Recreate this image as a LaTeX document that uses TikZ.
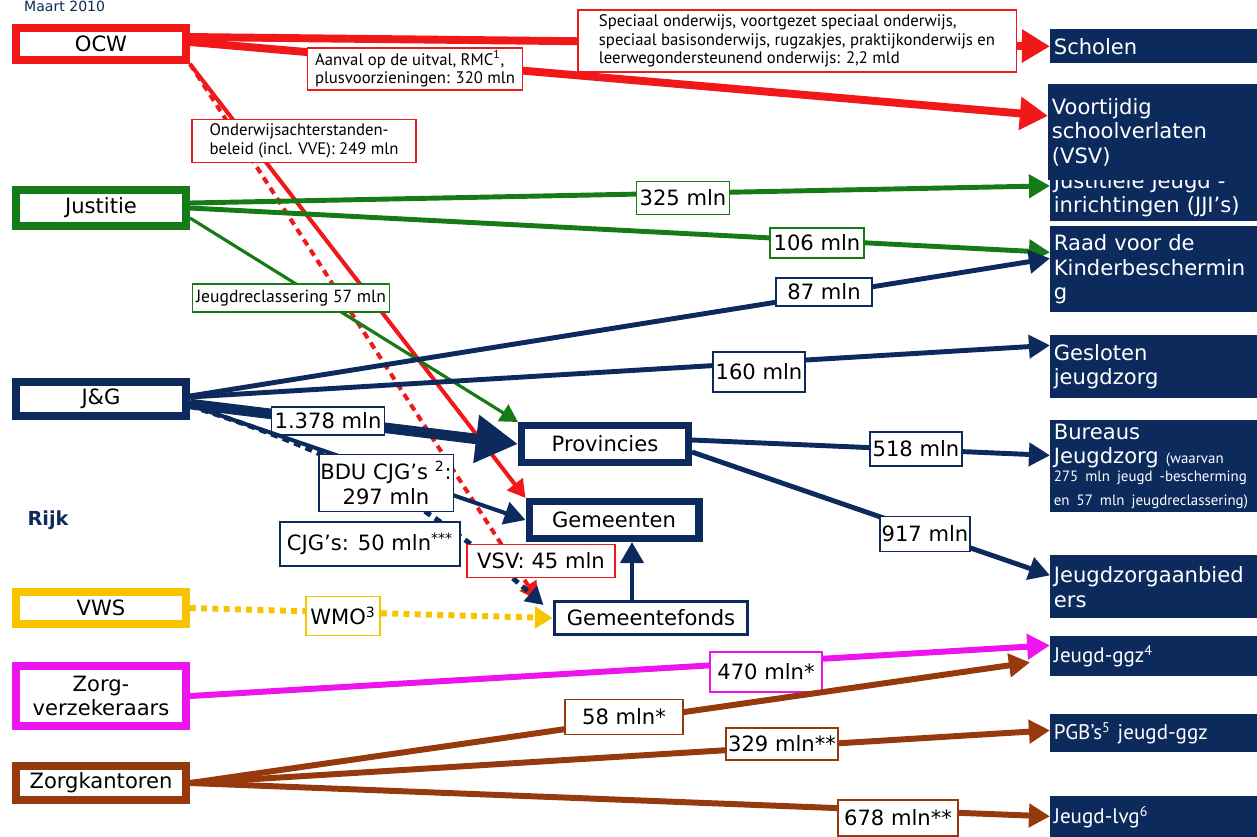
\documentclass[tikz,border=0pt]{standalone}
\usepackage{fontspec}
\setmainfont{DejaVu Sans}
\newfontfamily\smal{PT Sans}
\usetikzlibrary{arrows.meta}
\definecolor{ocwrood}{RGB}{240,24,24}
\definecolor{jusgroen}{RGB}{22,122,22}
\definecolor{jgblauw}{RGB}{12,42,92}
\definecolor{vwsgeel}{RGB}{246,196,0}
\definecolor{zvroze}{RGB}{238,20,238}
\definecolor{zkbruin}{RGB}{150,58,14}
\newcommand\klein{\smal\fontsize{8.5}{10}\selectfont}

\begin{document}
\begin{tikzpicture}[x=0.02cm,y=-0.02cm,font=\fontsize{12}{14}\selectfont,
  bron/.style={draw=#1,line width=4.5pt,fill=white,minimum width=3.4cm,inner sep=1pt},
  midden/.style={draw=jgblauw,line width=4pt,fill=white,inner sep=1pt},
  doel/.style={fill=jgblauw,text=white,anchor=north west,align=left,
    text width=4.3cm,inner xsep=2pt,inner ysep=1pt},
  bedrag/.style={draw=#1,line width=1.1pt,fill=white,inner sep=1pt},
  uitleg/.style={draw=#1,line width=1.1pt,fill=white,inner sep=1.5pt,align=left,
    font=\smal\fontsize{9.5}{10.5}\selectfont},
  geld/.style={-{Triangle[length=12pt,width=13pt]},line width=2.8pt}]
\useasboundingbox (0,0) rectangle (1257,836);
\node[text=jgblauw,font=\fontsize{8}{9}\selectfont,anchor=west] (titel) at (18,6) {Maart 2010};

% geldgevers
\node[bron=ocwrood,minimum height=0.64cm] (ocw) at (101,44) {OCW};
\node[bron=jusgroen,minimum height=0.72cm] (jus) at (101,208) {Justitie};
\node[bron=jgblauw,minimum height=0.68cm] (jg) at (101,399) {J\&G};
\node[text=jgblauw,font=\bfseries\fontsize{11}{13}\selectfont] (rijk) at (48,520) {Rijk};
\node[bron=vwsgeel,minimum height=0.64cm] (vws) at (101,608) {VWS};
\node[bron=zvroze,minimum height=1.2cm,align=center] (zv) at (101,696) {Zorg-\\verzekeraars};
\node[bron=zkbruin,minimum height=0.68cm] (zk) at (101,783) {Zorgkantoren};

% tussenlaag
\node[midden,minimum width=3.34cm,minimum height=0.74cm] (prov) at (605,444) {Provincies};
\node[midden,minimum width=3.4cm,minimum height=0.74cm] (gem) at (614,520) {Gemeenten};
\node[draw=jgblauw,line width=1.7pt,fill=white,minimum width=3.88cm,
  minimum height=0.66cm] (gf) at (651,618) {Gemeentefonds};

% ontvangers
\node[doel,minimum height=0.68cm] (scholen) at (1050,29) {Scholen};
\node[doel,minimum height=1.06cm] (jji) at (1050,168) {Justitiele Jeugd -\\inrichtingen (JJI’s)};
\node[doel,minimum height=1.92cm] (vsv) at (1048,84) {Voortijdig\\schoolverlaten\\(VSV)};
\node[doel,minimum height=1.72cm] (raad) at (1050,226) {Raad voor de\\Kinderbeschermin\\g};
\node[doel,minimum height=1.26cm] (gesl) at (1050,335) {Gesloten\\jeugdzorg};
\node[doel,minimum height=1.84cm] (bur) at (1050,420)
  {Bureaus\\[4pt]Jeugdzorg \klein(waarvan\\275 mln jeugd -bescherming\\en 57 mln jeugdreclassering)};
\node[doel,minimum height=1.26cm] (jza) at (1050,555) {Jeugdzorgaanbied\\ers};
\node[doel,minimum height=0.8cm,font=\smal\fontsize{12}{14}\selectfont] (ggz) at (1050,636) {Jeugd-ggz\textsuperscript{4}};
\node[doel,minimum height=0.76cm,font=\smal\fontsize{12}{14}\selectfont] (pgb) at (1050,714) {PGB’s\textsuperscript{5} jeugd-ggz};
\node[doel,minimum height=0.84cm,font=\smal\fontsize{12}{14}\selectfont] (lvg) at (1050,796) {Jeugd-lvg\textsuperscript{6}};

% OCW
\draw[geld,ocwrood,line width=4.5pt,-{Triangle[length=16pt,width=18pt]}] ([yshift=0.14cm]ocw.east) -- (scholen.west);
\node[uitleg=ocwrood,minimum width=8.78cm,minimum height=1.24cm] (l-so) at (797,41)
  {Speciaal onderwijs, voortgezet speciaal onderwijs,\\speciaal basisonderwijs, rugzakjes, praktijkonderwijs en\\leerwegondersteunend onderwijs: 2,2 mld};
\draw[geld,ocwrood,line width=4.5pt,-{Triangle[length=16pt,width=18pt]}] ([yshift=0.04cm]ocw.east) -- ([yshift=0.33cm]vsv.west);
\node[uitleg=ocwrood,minimum width=4.3cm,minimum height=0.76cm] (l-av) at (415,69)
  {Aanval op de uitval, RMC\textsuperscript{1},\\plusvoorzieningen: 320 mln};
\draw[ocwrood,line width=2.3pt,-{Triangle[length=10pt,width=11pt]}] (ocw.south east) -- (gem.north west);
\draw[ocwrood,line width=2.3pt,dash pattern=on 4pt off 3pt,-{Triangle[length=10pt,width=11pt]}]
  (ocw.south east) -- ([xshift=-0.3cm]gf.north west);
\node[uitleg=ocwrood,minimum width=4.48cm,minimum height=0.86cm] (l-oa) at (304,141)
  {Onderwijsachterstanden-\\beleid (incl. VVE): 249 mln};

% Justitie
\draw[geld,jusgroen] ([yshift=0.1cm]jus.east) -- ([yshift=0.18cm]jji.west);
\node[bedrag=jusgroen,minimum width=1.86cm,minimum height=0.66cm] (l-325) at (683,198) {325 mln};
\draw[geld,jusgroen] (jus.east) -- ([yshift=0.34cm]raad.west);
\node[bedrag=jusgroen,minimum width=1.88cm,minimum height=0.6cm] (l-106) at (817,243) {106 mln};
\draw[jusgroen,line width=1.8pt,-{Triangle[length=10pt,width=11pt]}] ([yshift=-0.2cm]jus.east) -- (prov.north west);
\node[uitleg=jusgroen,minimum width=3.94cm,minimum height=0.56cm,font=\smal\fontsize{10}{11}\selectfont]
  (l-jr) at (291,298) {Jeugdreclassering 57 mln};

% J&G
\draw[geld,jgblauw] ([yshift=0.06cm]jg.east) -- ([yshift=0.22cm]raad.west);
\node[bedrag=jgblauw,minimum width=1.92cm,minimum height=0.56cm] (l-87) at (824,292) {87 mln};
\draw[geld,jgblauw] ([yshift=0.04cm]jg.east) -- ([yshift=0.43cm]gesl.west);
\node[bedrag=jgblauw,minimum width=1.84cm,minimum height=0.8cm] (l-160) at (759,372) {160 mln};
\draw[jgblauw,line width=6pt,-{Triangle[length=24pt,width=26pt]}] ([yshift=-0.1cm]jg.east) -- (prov.west);
\node[bedrag=jgblauw,minimum width=2.26cm,minimum height=0.56cm] (l-1378) at (328,421) {1.378 mln};
\draw[geld,jgblauw,line width=2.3pt] ([yshift=-0.12cm]jg.east) -- (gem.west);
\draw[jgblauw,line width=2.8pt,dash pattern=on 4pt off 3pt,-{Triangle[length=10pt,width=11pt]}]
  ([yshift=-0.14cm]jg.east) to[bend left=12] ([xshift=-0.18cm,yshift=-0.1cm]gf.north west);
\node[bedrag=jgblauw,minimum width=2.64cm,minimum height=1.14cm,align=center] (l-bdu) at (386,483)
  {BDU CJG’s \textsuperscript{2}:\\297 mln};
\node[bedrag=jgblauw,minimum width=3.6cm,minimum height=0.88cm] (l-cjg) at (370,544) {CJG’s: 50 mln\textsuperscript{***}};
\node[bedrag=ocwrood,minimum width=2.96cm,minimum height=0.66cm] (l-vsv) at (541,561) {VSV: 45 mln};

% Provincies en Gemeentefonds
\draw[geld,jgblauw] ([yshift=0.08cm]prov.east) -- ([yshift=0.22cm]bur.west);
\node[bedrag=jgblauw,minimum width=1.84cm,minimum height=0.68cm] (l-518) at (916,449) {518 mln};
\draw[geld,jgblauw] ([yshift=-0.16cm]prov.east) -- ([yshift=0.23cm]jza.west);
\node[bedrag=jgblauw,minimum width=1.8cm,minimum height=0.7cm] (l-917) at (925,534) {917 mln};
\coordinate (gfop) at ([xshift=-0.38cm]gf.north);
\draw[geld,jgblauw] (gfop) -- (gfop |- gem.south);

% VWS
\draw[vwsgeel,line width=3.4pt,dash pattern=on 3.4pt off 3pt,-{Triangle[length=10pt,width=12pt]}] (vws.east) -- (gf.west);
\node[bedrag=vwsgeel,minimum width=1.48cm,minimum height=0.78cm] (l-wmo) at (343,616) {WMO\textsuperscript{3}};

% zorgverzekeraars en zorgkantoren
\draw[geld,zvroze,line width=3.4pt,-{Triangle[length=13pt,width=14pt]}] (zv.east) -- ([yshift=0.22cm]ggz.west);
\node[bedrag=zvroze,minimum width=2.24cm,minimum height=0.8cm] (l-470) at (766,672) {470 mln*};
\draw[geld,zkbruin,line width=3.4pt] (zk.east) -- ([xshift=-0.4cm,yshift=-0.12cm]ggz.west);
\node[bedrag=zkbruin,minimum width=2.36cm,minimum height=0.7cm] (l-58) at (624,717) {58 mln*};
\draw[geld,zkbruin,line width=3.4pt] (zk.east) -- ([yshift=0.06cm]pgb.west);
\node[bedrag=zkbruin,minimum width=2.22cm,minimum height=0.64cm] (l-329) at (782,744) {329 mln**};
\draw[geld,zkbruin,line width=3.4pt] (zk.east) -- ([yshift=0.02cm]lvg.west);
\node[bedrag=zkbruin,minimum width=2.4cm,minimum height=0.72cm] (l-678) at (898,818) {678 mln**};
\end{tikzpicture}
\end{document}
